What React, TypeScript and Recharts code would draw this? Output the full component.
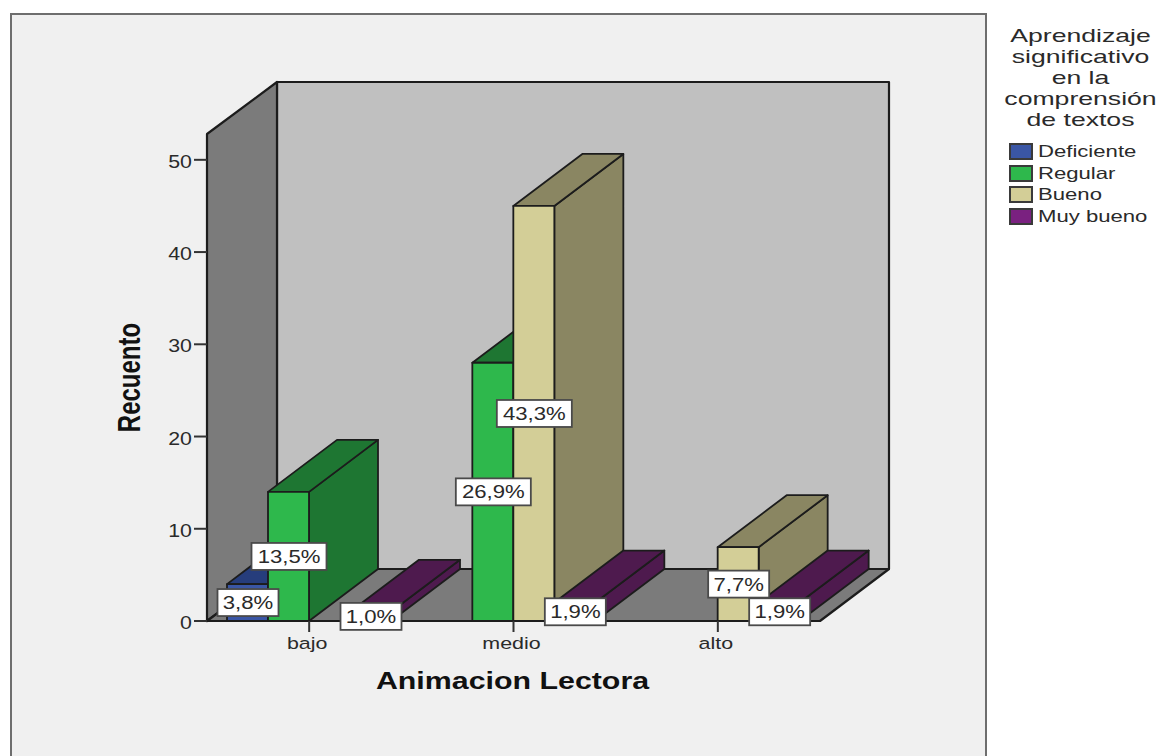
import { Bar, BarChart, Label, LabelList, Legend, XAxis, YAxis, usePlotArea } from 'recharts';

// Recuento por nivel de Animacion Lectora
const niveles = ['bajo', 'medio', 'alto'];
const deficiente = [4, 0, 0];
const regular = [14, 28, 0];
const bueno = [0, 45, 8];
const muyBueno = [1, 2, 2];

const deficientePct = ['3,8%', '', ''];
const regularPct = ['13,5%', '26,9%', ''];
const buenoPct = ['', '43,3%', '7,7%'];
const muyBuenoPct = ['1,0%', '1,9%', '1,9%'];

const yTicks = [0, 10, 20, 30, 40, 50];
const tituloLeyenda = ['Aprendizaje', 'significativo', 'en la', 'comprensión', 'de textos'];

const rows = niveles.map((nivel, i) => ({
    nivel,
    Deficiente: deficiente[i],
    Regular: regular[i],
    Bueno: bueno[i],
    'Muy bueno': muyBueno[i],
    deficientePct: deficientePct[i],
    regularPct: regularPct[i],
    buenoPct: buenoPct[i],
    muyBuenoPct: muyBuenoPct[i],
}));

// front colour, shaded colour for the top and side faces
const COLORS = {
    deficiente: ['#3a56a5', '#263d7c'],
    regular: ['#2eb84c', '#1e7632'],
    bueno: ['#d3ce97', '#8a8662'],
    muyBueno: ['#7a2180', '#4e1a4e'],
};

// how far the box extrudes towards the back wall
const DEPTH_X = 69;
const DEPTH_Y = 52;
const EDGE = '#1c1c1c';
const FONT = '"Liberation Sans", Arial, sans-serif';

function StretchedText({ x, y, size, sx = 1.3, anchor = 'middle', weight = 'normal', fill = '#2a2a2a', rotate = 0, children }: any) {
    const turn = rotate ? ` rotate(${rotate})` : '';
    return (
        <text
            transform={`translate(${x} ${y}) scale(${sx} 1)${turn}`}
            textAnchor={anchor}
            fontFamily={FONT}
            fontSize={size}
            fontWeight={weight}
            fill={fill}
        >
            {children}
        </text>
    );
}

/**
 * Side wall, back wall and floor, hung off the plot area
 */
function Walls() {
    const plot = usePlotArea();
    if (!plot) return null;
    const left = plot.x;
    const right = plot.x + plot.width;
    const top = plot.y;
    const bottom = plot.y + plot.height;
    const backLeft = left + DEPTH_X + 1;
    const backRight = right + DEPTH_X;
    const backTop = top - DEPTH_Y;
    const backBottom = bottom - DEPTH_Y;
    const line = { stroke: EDGE, strokeWidth: 2.2, strokeLinejoin: 'round' as const };
    return (
        <g>
            <rect x={backLeft} y={backTop} width={backRight - backLeft} height={backBottom - backTop} fill="#c0c0c0" {...line} />
            <polygon points={`${left},${top} ${backLeft},${backTop} ${backLeft},${backBottom} ${left},${bottom}`} fill="#7b7b7b" {...line} />
            <polygon points={`${left},${bottom} ${backLeft},${backBottom} ${backRight},${backBottom} ${right},${bottom}`} fill="#7b7b7b" {...line} />
        </g>
    );
}

function Box3D({ x, y, width, height, front, shade }: any) {
    if (!height || height <= 0) return null;
    const r = x + width;
    const b = y + height;
    const line = { stroke: EDGE, strokeWidth: 1.8, strokeLinejoin: 'round' as const };
    return (
        <g>
            <polygon points={`${r},${y} ${r + DEPTH_X},${y - DEPTH_Y} ${r + DEPTH_X},${b - DEPTH_Y} ${r},${b}`} fill={shade} {...line} />
            <polygon points={`${x},${y} ${x + DEPTH_X},${y - DEPTH_Y} ${r + DEPTH_X},${y - DEPTH_Y} ${r},${y}`} fill={shade} {...line} />
            <rect x={x} y={y} width={width} height={height} fill={front} {...line} />
        </g>
    );
}

function PctLabel({ x, y, width, height, value }: any) {
    if (!value) return null;
    const cx = x + width / 2 + 0.5;
    const cy = y + height / 2;
    const w = String(value).length * 14 + 5;
    return (
        <g>
            <rect x={cx - w / 2} y={cy - 13.5} width={w} height={27} fill="#ffffff" stroke="#4a4a4a" strokeWidth={1.8} />
            <StretchedText x={cx} y={cy + 6.5} size={18} sx={1.23}>{value}</StretchedText>
        </g>
    );
}

function YTick({ x, y, payload }: any) {
    return <StretchedText x={x} y={y + 8} size={17.5} sx={1.22} anchor="end">{payload.value}</StretchedText>;
}

function XTick({ x, y, payload }: any) {
    return <StretchedText x={x - 2} y={y + 15} size={16.5} sx={1.3}>{payload.value}</StretchedText>;
}

function XTitle({ viewBox }: any) {
    return (
        <StretchedText x={viewBox.x + viewBox.width / 2 - 1} y={viewBox.y + 68} size={23} sx={1.32} weight="bold" fill="#111111">
            Animacion Lectora
        </StretchedText>
    );
}

function YTitle({ viewBox }: any) {
    return (
        <StretchedText x={viewBox.x - 7} y={viewBox.y + viewBox.height / 2} size={24} sx={1.3} weight="bold" fill="#111111" rotate={-90}>
            Recuento
        </StretchedText>
    );
}

function LegendBox({ payload }: any) {
    const text = { position: 'absolute' as const, whiteSpace: 'nowrap' as const, fontFamily: FONT, color: '#2a2a2a' };
    return (
        <div style={{ position: 'relative', width: 161, height: 240 }}>
            {tituloLeyenda.map((linea, i) => (
                <div
                    key={linea}
                    style={{ ...text, left: 0, width: 161, top: 25 + i * 21, textAlign: 'center', fontSize: 19, lineHeight: '21px', transform: 'scaleX(1.4)' }}
                >
                    {linea}
                </div>
            ))}
            {(payload ?? []).map((item: any, i: number) => (
                <div key={item.value}>
                    <div
                        style={{ position: 'absolute', left: 9, top: 143 + i * 21.7, width: 20, height: 13, background: item.color, border: '2px solid #3a3a3a', boxSizing: 'content-box' }}
                    />
                    <div
                        style={{ ...text, left: 38, top: 141 + i * 21.7, fontSize: 16.5, lineHeight: '21px', transform: 'scaleX(1.34)', transformOrigin: 'left center' }}
                    >
                        {item.value}
                    </div>
                </div>
            ))}
        </div>
    );
}

export default function App() {
    return (
        <div style={{ position: 'absolute', left: 0, top: 0, width: 1161, height: 756, overflow: 'hidden', background: '#ffffff' }}>
            <div style={{ position: 'absolute', left: 10, top: 13, width: 973, height: 780, background: '#f0f0f0', border: '2px solid #6e6e6e' }} />
            <BarChart
                width={1161}
                height={756}
                data={rows}
                barSize={41}
                barGap={0}
                margin={{ top: 134, right: 341, bottom: 75, left: 147 }}
                style={{ position: 'absolute', left: 0, top: 0 }}
            >
                <Walls />
                <XAxis
                    dataKey="nivel"
                    height={60}
                    axisLine={false}
                    tickLine={{ stroke: '#333333', strokeWidth: 2 }}
                    tickSize={11}
                    tick={<XTick />}
                    interval={0}
                >
                    <Label content={<XTitle />} />
                </XAxis>
                <YAxis
                    width={60}
                    domain={[0, 52.8]}
                    ticks={yTicks}
                    axisLine={false}
                    tickLine={{ stroke: '#333333', strokeWidth: 2 }}
                    tickSize={13}
                    tick={<YTick />}
                >
                    <Label content={<YTitle />} />
                </YAxis>
                <Legend
                    layout="vertical"
                    align="center"
                    verticalAlign="middle"
                    itemSorter={null}
                    content={<LegendBox />}
                    wrapperStyle={{ left: 1000, top: 0, width: 161, height: 240, margin: 0 }}
                />
                <Bar
                    dataKey="Deficiente"
                    fill={COLORS.deficiente[0]}
                    isAnimationActive={false}
                    shape={(p: any) => <Box3D {...p} front={COLORS.deficiente[0]} shade={COLORS.deficiente[1]} />}
                >
                    <LabelList dataKey="deficientePct" content={<PctLabel />} />
                </Bar>
                <Bar
                    dataKey="Regular"
                    fill={COLORS.regular[0]}
                    isAnimationActive={false}
                    shape={(p: any) => <Box3D {...p} front={COLORS.regular[0]} shade={COLORS.regular[1]} />}
                >
                    <LabelList dataKey="regularPct" content={<PctLabel />} />
                </Bar>
                <Bar
                    dataKey="Bueno"
                    fill={COLORS.bueno[0]}
                    isAnimationActive={false}
                    shape={(p: any) => <Box3D {...p} front={COLORS.bueno[0]} shade={COLORS.bueno[1]} />}
                >
                    <LabelList dataKey="buenoPct" content={<PctLabel />} />
                </Bar>
                <Bar
                    dataKey="Muy bueno"
                    fill={COLORS.muyBueno[0]}
                    isAnimationActive={false}
                    shape={(p: any) => <Box3D {...p} front={COLORS.muyBueno[0]} shade={COLORS.muyBueno[1]} />}
                >
                    <LabelList dataKey="muyBuenoPct" content={<PctLabel />} />
                </Bar>
            </BarChart>
        </div>
    );
}
